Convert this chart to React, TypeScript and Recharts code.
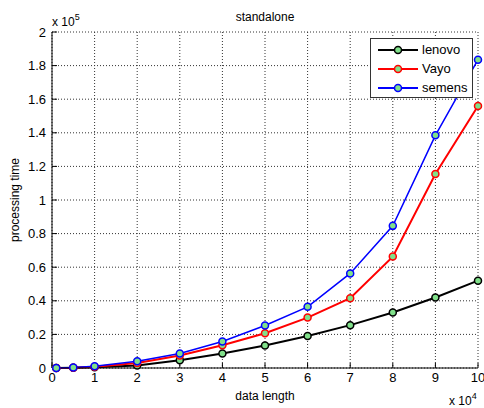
import React from 'react';
import { LineChart, Line, XAxis, YAxis, CartesianGrid, Legend } from 'recharts';

const dataLength = [0.1, 0.5, 1, 2, 3, 4, 5, 6, 7, 8, 9, 10];
const lenovo = [0, 0.002, 0.004, 0.015, 0.046, 0.086, 0.134, 0.19, 0.255, 0.33, 0.42, 0.52];
const vayo = [0, 0.002, 0.008, 0.03, 0.075, 0.135, 0.207, 0.3, 0.415, 0.663, 1.155, 1.56];
const semens = [0, 0.003, 0.01, 0.04, 0.086, 0.158, 0.253, 0.364, 0.563, 0.846, 1.385, 1.835];
const xTicks = [0, 1, 2, 3, 4, 5, 6, 7, 8, 9, 10];
const yTicks = [0, 0.2, 0.4, 0.6, 0.8, 1, 1.2, 1.4, 1.6, 1.8, 2];
const seriesNames = ['lenovo', 'Vayo', 'semens'];
const seriesColors = ['#000000', '#ff0000', '#0000ff'];

const data = dataLength.map((x, i) => ({ x, lenovo: lenovo[i], Vayo: vayo[i], semens: semens[i] }));

const FONT = 'Arial, "Liberation Sans", sans-serif';
const MARKER = '#80e08a';

const EmptyTick = () => <g />;

const fmtY = (v: number) => (Math.round(v * 10) / 10).toString();

const LegendBox = () => (
  <div style={{ border: '1px solid #333', background: '#fff', width: 103, height: 60, boxSizing: 'border-box', fontFamily: FONT, fontSize: 13 }}>
    {seriesNames.map((n, i) => (
      <div key={n} style={{ display: 'flex', alignItems: 'center', height: 19, marginTop: i === 0 ? 1 : 0 }}>
        <svg width={51} height={12} style={{ display: 'block' }}>
          <line x1={7} y1={6} x2={47} y2={6} stroke={seriesColors[i]} strokeWidth={2} />
          <circle cx={27} cy={6} r={3.5} fill={MARKER} stroke={seriesColors[i]} strokeWidth={1.5} />
        </svg>
        <span style={{ color: '#000', lineHeight: '13px' }}>{n}</span>
      </div>
    ))}
  </div>
);

export default function App() {
  return (
    <div style={{ position: 'absolute', left: 0, top: 0, width: 484, height: 408, background: '#fff' }}>
      <LineChart width={484} height={408} data={data} margin={{ top: 32, right: 6, bottom: 10, left: 0 }}>
        <CartesianGrid stroke="#333" strokeDasharray="1 2" xAxisId="bottom" yAxisId="left" />
        <XAxis
          xAxisId="bottom"
          dataKey="x"
          type="number"
          domain={[0, 10]}
          ticks={xTicks}
          interval={0}
          height={30}
          tickSize={-5}
          tickMargin={10}
          stroke="#000"
          tick={{ fill: '#000', fontSize: 13, fontFamily: FONT }}
          label={{ value: 'data length', position: 'insideBottom', offset: 0, dy: 2, fill: '#000', fontSize: 12, fontFamily: FONT }}
        />
        <XAxis xAxisId="top" orientation="top" dataKey="x" type="number" domain={[0, 10]} ticks={xTicks} interval={0} height={0} tickSize={-5} stroke="#000" tick={EmptyTick} />
        <YAxis
          yAxisId="left"
          type="number"
          domain={[0, 2]}
          ticks={yTicks}
          interval={0}
          width={52}
          tickSize={-5}
          tickMargin={11}
          stroke="#000"
          tickFormatter={fmtY}
          tick={{ fill: '#000', fontSize: 13, fontFamily: FONT }}
          label={{ value: 'processing time', angle: -90, position: 'insideLeft', offset: 15, dy: 0, fill: '#000', fontSize: 12, fontFamily: FONT, style: { textAnchor: 'middle' } }}
        />
        <YAxis yAxisId="right" orientation="right" type="number" domain={[0, 2]} ticks={yTicks} interval={0} width={0} tickSize={-5} stroke="#000" tick={EmptyTick} />
        <Line xAxisId="bottom" yAxisId="left" type="linear" dataKey="lenovo" stroke="#000" strokeWidth={2} isAnimationActive={false}
          dot={{ r: 3.5, fill: MARKER, stroke: '#000', strokeWidth: 1.5 }} />
        <Line xAxisId="bottom" yAxisId="left" type="linear" dataKey="Vayo" stroke="#ff0000" strokeWidth={2} isAnimationActive={false}
          dot={{ r: 3.5, fill: MARKER, stroke: '#ff0000', strokeWidth: 1.5 }} />
        <Line xAxisId="bottom" yAxisId="left" type="linear" dataKey="semens" stroke="#0000ff" strokeWidth={1.5} isAnimationActive={false}
          dot={{ r: 3.5, fill: MARKER, stroke: '#0000ff', strokeWidth: 1.5 }} />
        <Legend layout="vertical" align="center" verticalAlign="middle" content={LegendBox}
          wrapperStyle={{ position: 'absolute', left: 370, top: 38, width: 103, height: 60 }} />
        <text x={265} y={21} textAnchor="middle" fontSize={12} fontFamily={FONT} fill="#000">standalone</text>
        <text x={52} y={26} fontSize={12} fontFamily={FONT} fill="#000">x 10<tspan dy={-6} fontSize={9}>5</tspan></text>
        <text x={449} y={405} fontSize={12} fontFamily={FONT} fill="#000">x 10<tspan dy={-6} fontSize={9}>4</tspan></text>
      </LineChart>
    </div>
  );
}
